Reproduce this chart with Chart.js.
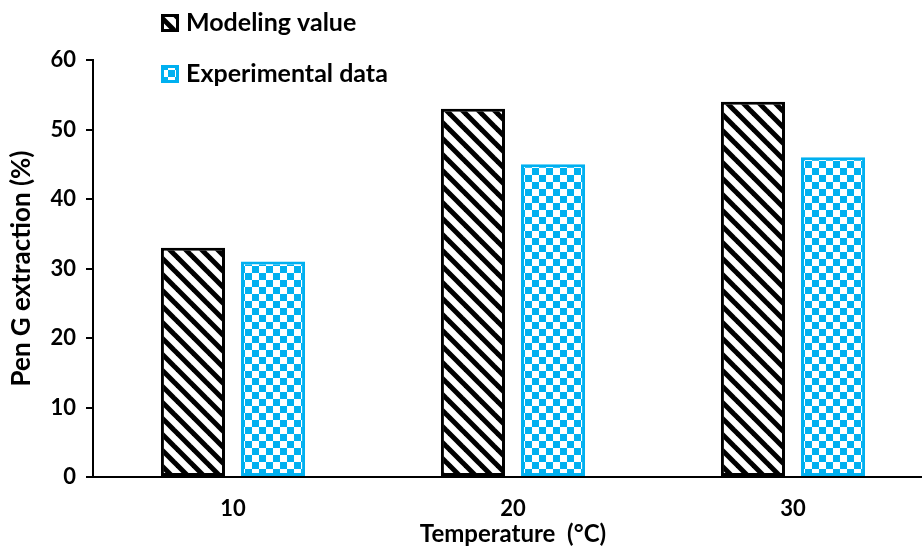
<!DOCTYPE html>
<html>
<head>
<meta charset="utf-8">
<script src="https://cdn.jsdelivr.net/npm/chart.js@4/dist/chart.umd.min.js"></script>
<style>
  html, body { margin: 0; padding: 0; overflow: hidden; background: #fff; }
  #wrap { width: 933px; height: 546px; }
</style>
</head>
<body>
<div id="wrap"><canvas id="penChart" width="933" height="546"></canvas></div>
<script>
// data
const temperatures = ['10', '20', '30'];
const modelingValue = [33, 53, 54];
const experimentalData = [31, 45, 46];
const yTicks = [0, 10, 20, 30, 40, 50, 60];

const FONT = 'Lato, "Open Sans", sans-serif';
const BLUE = '#00B0F0';

// black diagonal stripes
function stripePattern() {
    const c = document.createElement('canvas');
    c.width = 16; c.height = 16;
    const g = c.getContext('2d');
    g.fillStyle = '#fff';
    g.fillRect(0, 0, 16, 16);
    g.strokeStyle = '#000';
    g.lineWidth = 5;
    [-16, 0, 16].forEach(function (o) {
        g.beginPath();
        g.moveTo(o - 6, -6);
        g.lineTo(o + 22, 22);
        g.stroke();
    });
    return g.createPattern(c, 'repeat');
}

// blue checkerboard
function checkerPattern() {
    const c = document.createElement('canvas');
    const s = 7;
    c.width = s * 2; c.height = s * 2;
    const g = c.getContext('2d');
    g.fillStyle = '#fff';
    g.fillRect(0, 0, s * 2, s * 2);
    g.fillStyle = BLUE;
    g.fillRect(0, 0, s, s);
    g.fillRect(s, s, s, s);
    return g.createPattern(c, 'repeat');
}

const stripes = stripePattern();
const checker = checkerPattern();

// legend drawn by hand, stacked on the left
const legendPlugin = {
    id: 'handLegend',
    afterDraw(chart) {
        const ctx = chart.ctx;
        const rows = [
            { y: 23, fill: stripes, border: '#000' },
            { y: 74, fill: checker, border: BLUE }
        ];
        ctx.save();
        chart.data.datasets.forEach(function (ds, i) {
            const r = rows[i];
            ctx.fillStyle = r.fill;
            ctx.fillRect(161, r.y - 9, 18, 18);
            ctx.strokeStyle = r.border;
            ctx.lineWidth = 3;
            ctx.strokeRect(162.5, r.y - 7.5, 15, 15);
            ctx.fillStyle = '#000';
            ctx.font = 'bold 25px ' + FONT;
            ctx.textBaseline = 'middle';
            ctx.fillText(ds.label, 186, r.y);
        });
        ctx.restore();
    }
};

new Chart(document.getElementById('penChart').getContext('2d'), {
    type: 'bar',
    data: {
        labels: temperatures,
        datasets: [{
            label: 'Modeling value',
            data: modelingValue,
            backgroundColor: stripes,
            borderColor: '#000',
            borderWidth: 3,
            borderSkipped: false
        }, {
            label: 'Experimental data',
            data: experimentalData,
            backgroundColor: checker,
            borderColor: BLUE,
            borderWidth: 3,
            borderSkipped: false
        }]
    },
    options: {
        responsive: false,
        animation: false,
        layout: { padding: { top: 60, left: 0, right: 0, bottom: 0 } },
        datasets: { bar: { categoryPercentage: 0.572, barPercentage: 0.8 } },
        plugins: {
            legend: { display: false },
            tooltip: { enabled: false }
        },
        scales: {
            x: {
                afterFit(scale) { scale.height = 69; },
                grid: { display: false, drawTicks: false },
                border: { display: true, color: '#000', width: 2 },
                ticks: { color: '#000', padding: 19, font: { family: FONT, size: 22, weight: 'bold' } },
                title: {
                    display: true,
                    text: 'Temperature  (°C)',
                    color: '#000',
                    padding: 0,
                    font: { family: FONT, size: 24, weight: 'bold', lineHeight: 1 }
                }
            },
            y: {
                min: 0,
                max: 60,
                afterFit(scale) { scale.width = 93; },
                afterBuildTicks(scale) { scale.ticks = yTicks.map(function (v) { return { value: v }; }); },
                grid: { display: true, drawOnChartArea: false, drawTicks: true, tickLength: 7, color: '#000', lineWidth: 2 },
                border: { display: true, color: '#000', width: 2 },
                ticks: { color: '#000', padding: 10, font: { family: FONT, size: 22, weight: 'bold' } },
                title: {
                    display: true,
                    text: 'Pen G extraction (%)',
                    color: '#000',
                    padding: { top: 9, bottom: 0 },
                    font: { family: FONT, size: 26, weight: 'bold', lineHeight: 1 }
                }
            }
        }
    },
    plugins: [legendPlugin]
});
</script>
</body>
</html>
